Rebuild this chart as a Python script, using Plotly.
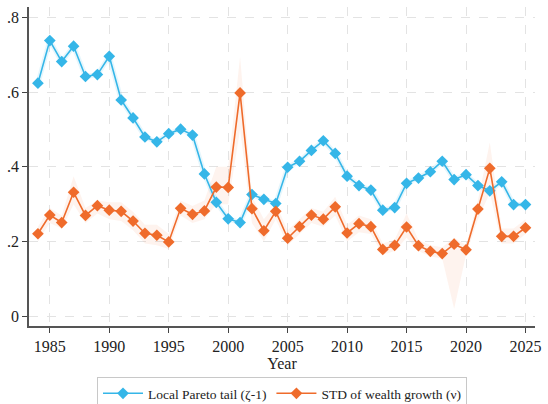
import plotly.graph_objects as go

years = list(range(1984, 2026))

# Local Pareto tail (zeta - 1)
pareto_tail = [
    0.624, 0.738, 0.682, 0.723, 0.642, 0.647, 0.696, 0.579, 0.531, 0.480,
    0.467, 0.489, 0.501, 0.485, 0.381, 0.305, 0.261, 0.251, 0.326, 0.313,
    0.302, 0.399, 0.415, 0.444, 0.470, 0.436, 0.375, 0.350, 0.338, 0.284,
    0.291, 0.356, 0.370, 0.387, 0.415, 0.366, 0.379, 0.350, 0.336, 0.360,
    0.299, 0.299,
]

# Standard deviation of wealth growth (nu) with its confidence band
wealth_std = [
    0.221, 0.271, 0.251, 0.332, 0.270, 0.296, 0.284, 0.281, 0.255, 0.222,
    0.217, 0.199, 0.289, 0.273, 0.282, 0.346, 0.345, 0.598, 0.288, 0.229,
    0.281, 0.209, 0.240, 0.271, 0.260, 0.293, 0.223, 0.248, 0.240, 0.179,
    0.190, 0.239, 0.189, 0.174, 0.168, 0.193, 0.178, 0.287, 0.396, 0.214,
    0.214, 0.237,
]
wealth_std_lo = [
    0.200, 0.250, 0.235, 0.300, 0.250, 0.275, 0.260, 0.255, 0.230, 0.195,
    0.190, 0.180, 0.270, 0.250, 0.260, 0.300, 0.300, 0.500, 0.250, 0.200,
    0.260, 0.190, 0.220, 0.250, 0.240, 0.270, 0.200, 0.225, 0.220, 0.165,
    0.175, 0.210, 0.175, 0.160, 0.155, 0.020, 0.165, 0.260, 0.330, 0.195,
    0.195, 0.220,
]
wealth_std_hi = [
    0.240, 0.290, 0.270, 0.375, 0.290, 0.310, 0.305, 0.305, 0.280, 0.245,
    0.245, 0.220, 0.310, 0.295, 0.310, 0.400, 0.400, 0.695, 0.320, 0.260,
    0.300, 0.230, 0.260, 0.290, 0.280, 0.320, 0.245, 0.270, 0.260, 0.195,
    0.205, 0.275, 0.205, 0.190, 0.185, 0.210, 0.190, 0.310, 0.465, 0.235,
    0.235, 0.260,
]

y_ticks = [0, 0.2, 0.4, 0.6, 0.8]
y_tick_text = ["0", ".2", ".4", ".6", ".8"]
x_ticks = [1985, 1990, 1995, 2000, 2005, 2010, 2015, 2020, 2025]

BLUE = "#35B6E8"
ORANGE = "#EF6B2B"
SERIF = "Liberation Serif"

fig = go.Figure()

# confidence band for the wealth-growth dispersion
fig.add_trace(go.Scatter(
    x=years, y=wealth_std_hi, mode="lines", line=dict(width=0),
    showlegend=False, hoverinfo="skip"))
fig.add_trace(go.Scatter(
    x=years, y=wealth_std_lo, mode="lines", line=dict(width=0),
    fill="tonexty", fillcolor="rgba(239,107,43,0.08)",
    showlegend=False, hoverinfo="skip"))

# soft halo around the tail series
fig.add_trace(go.Scatter(
    x=years, y=pareto_tail, mode="lines",
    line=dict(color="rgba(53,182,232,0.12)", width=5),
    showlegend=False, hoverinfo="skip"))

fig.add_trace(go.Scatter(
    x=years, y=pareto_tail, mode="lines+markers",
    name="Local Pareto tail (ζ-1)",
    line=dict(color=BLUE, width=1.6),
    marker=dict(symbol="diamond", size=9, color=BLUE)))

fig.add_trace(go.Scatter(
    x=years, y=wealth_std, mode="lines+markers",
    name="STD of wealth growth (ν)",
    line=dict(color=ORANGE, width=1.6),
    marker=dict(symbol="diamond", size=9, color=ORANGE)))

grid = dict(showgrid=True, gridcolor="#e3e3e3", griddash="dash", gridwidth=1)
tickfont = dict(family=SERIF, size=16, color="#222")

fig.update_layout(
    width=548, height=404,
    margin=dict(l=29, r=7, t=7, b=78),
    paper_bgcolor="white", plot_bgcolor="white",
    font=dict(family=SERIF, size=16, color="#222"),
    xaxis=dict(
        range=[1983.25, 2025.8], tickvals=x_ticks, ticks="outside",
        ticklen=5, tickcolor="#444", showline=True, linecolor="#555",
        linewidth=1.5, zeroline=False, tickfont=tickfont,
        title=dict(text="Year", standoff=3,
                   font=dict(family=SERIF, size=16, color="#222")),
        **grid),
    yaxis=dict(
        range=[-0.026, 0.828], tickvals=y_ticks, ticktext=y_tick_text,
        ticks="outside", ticklen=5, tickcolor="#444", showline=True,
        linecolor="#555", linewidth=1.5, zeroline=False, tickfont=tickfont,
        **grid),
    legend=dict(
        orientation="h", x=0.5, xanchor="center",
        yref="container", y=1 - 377 / 404, yanchor="top",
        traceorder="normal",
        bordercolor="#c8c8c8", borderwidth=1,
        font=dict(family=SERIF, size=13.5, color="#222"),
        itemwidth=40),
    showlegend=True,
)

fig.write_html("out.html")
